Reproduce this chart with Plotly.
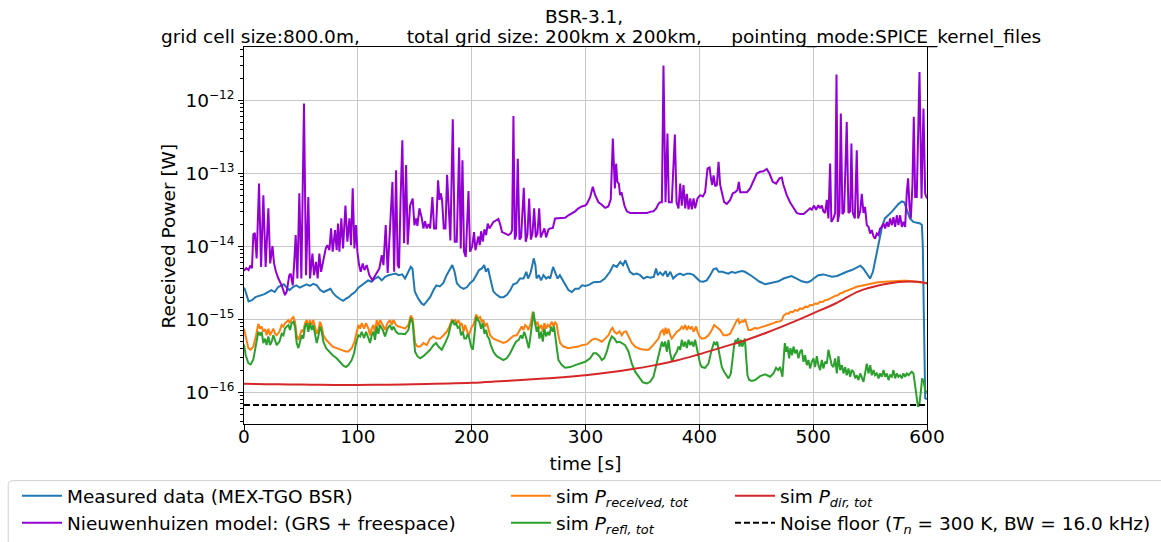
import numpy as np
import plotly.graph_objects as go

# ---------------------------------------------------------------- data
# All powers below are in femtowatts (1 fW = 1e-15 W); times in seconds.

measured_t = [
    0, 1, 4, 7, 10, 14, 18, 21, 24, 27,
    30, 33, 35, 37.5, 40, 43, 46, 49, 52, 55,
    58, 61, 64, 67, 70, 73, 76, 78.5, 81, 84,
    87, 90, 92, 95, 97.5, 100.5, 103, 106, 109, 112,
    115, 118, 121, 124, 127, 130, 133, 136, 139, 141.5,
    144.5, 146.5, 148, 150, 153, 156, 158, 160.5, 163.5, 166.5,
    169, 172, 175, 178, 181, 183, 185, 187, 190, 193,
    196, 198.5, 201.5, 204.5, 206.5, 209, 211, 212.5, 214.5, 216,
    219, 222, 225, 228, 231, 234, 236.5, 239.5, 242.5, 245.5,
    248, 249.5, 251.5, 253, 254.5, 256, 257, 259, 261, 263,
    265.5, 267.5, 269, 271.5, 273.5, 275.5, 277.5, 280, 282, 285,
    288, 291, 294, 297, 300, 303, 307, 313, 317, 321.5,
    324.5, 327.5, 330.5, 333, 335, 337, 339, 342, 345, 348,
    351, 354, 357, 360, 362, 363.5, 365.5, 368, 370.5, 372,
    374.5, 377, 380, 383, 386, 389, 392, 395, 398, 400.5,
    403.5, 406.5, 409.5, 412.5, 415, 417, 420, 422.5, 425.5, 428.5,
    431.5, 434.5, 437.5, 440, 443, 446, 449, 453, 458, 461,
    465, 469.5, 474, 478, 481, 485.5, 490, 494.5, 497.5, 500.5,
    504.5, 509, 512, 516.5, 521, 525, 529.5, 534, 538.5, 541.5,
    544, 547, 550, 552.5, 554.5, 557.5, 560.5, 563, 566, 569,
    572, 575, 578, 580, 582.5, 585, 588, 591, 594, 595.5,
    596.3, 597.2, 598.4, 600,
]
measured_fw = [
    2.7, 2.5, 1.75, 1.82, 2.0, 2.1, 2.2, 2.35, 2.5, 2.35,
    2.75, 2.9, 3.0, 2.7, 2.5, 2.75, 2.9, 2.7, 2.85, 3.0,
    2.85, 3.05, 2.9, 2.5, 2.35, 2.45, 2.6, 2.25, 2.05, 1.9,
    1.78, 1.92, 2.0, 2.2, 2.35, 2.7, 2.9, 3.2, 3.4, 3.25,
    3.6, 3.8, 3.4, 3.8, 4.0, 4.1, 4.2, 4.0, 4.1, 3.6,
    4.45, 5.2, 4.9, 2.4, 1.92, 1.64, 1.56, 1.73, 2.0, 2.5,
    2.9, 2.8, 3.1, 4.0, 4.9, 5.5, 4.45, 3.1, 2.75, 2.6,
    2.75, 3.1, 3.4, 4.2, 4.7, 4.95, 5.5, 4.45, 4.95, 3.8,
    2.4, 2.15, 2.0, 2.0, 2.15, 2.5, 3.0, 3.1, 3.6, 3.6,
    4.45, 3.6, 4.2, 5.2, 6.8, 5.5, 3.6, 4.0, 3.4, 4.0,
    3.6, 3.8, 3.6, 5.2, 4.2, 3.6, 4.0, 3.4, 2.9, 2.5,
    2.35, 2.6, 2.6, 2.9, 2.85, 2.95, 3.2, 3.25, 3.6, 4.45,
    5.5, 5.2, 6.1, 5.5, 6.4, 5.2, 4.45, 4.1, 4.2, 4.0,
    3.6, 3.8, 3.7, 3.8, 4.95, 4.0, 4.35, 4.0, 4.55, 3.8,
    4.45, 3.6, 4.0, 4.2, 4.0, 4.2, 4.2, 4.0, 3.6, 3.3,
    3.25, 3.4, 4.0, 4.85, 4.95, 4.45, 4.45, 4.35, 4.2, 4.45,
    4.3, 4.45, 4.55, 4.45, 4.2, 3.9, 3.6, 3.25, 3.0, 3.08,
    3.18, 3.3, 3.6, 3.8, 3.9, 3.6, 3.3, 3.18, 3.3, 3.6,
    4.0, 4.1, 4.0, 3.8, 3.9, 4.2, 4.45, 4.7, 5.05, 5.4,
    4.95, 4.2, 3.6, 4.45, 6.4, 11.5, 18.4, 24, 26.5, 29.5,
    33.4, 38, 41, 40, 31, 24, 21.5, 21, 20.5, 19.5,
    10.3, 1.26, 0.082, 0.08,
]

model_t = [
    0, 2, 4, 5.5, 7, 8.2, 9.5, 11.1, 13.2, 15,
    17, 19, 21.4, 23, 25, 26.4, 28.1, 30.2, 33.1, 36,
    37.5, 39.8, 41, 42.8, 44, 45.4, 46.9, 48.6, 50.4, 52.7,
    54.5, 56.5, 58, 60.1, 61.5, 63.3, 64.7, 66.2, 67.7, 69.7,
    71.8, 73.2, 75, 76.5, 77.9, 80, 81.4, 82.6, 83.8, 85.5,
    87, 89.1, 90.8, 92.6, 94, 95.5, 97, 98.4, 99.6, 101.1,
    102.5, 104.3, 105.8, 107.8, 110.1, 112.8, 115.1, 117.2, 118.9, 121,
    122.5, 124.5, 126.2, 128.5, 130.4, 131.9, 133.6, 135, 136.2, 137.5,
    139.1, 140.6, 142.4, 143.8, 145.9, 148.2, 149.7, 151.2, 152.3, 154.1,
    156.2, 157.6, 159, 160.5, 162, 163.5, 165.5, 167, 168.7, 170.5,
    171.7, 172.8, 174, 175.5, 177, 178.4, 179.9, 181.3, 183.4, 185.1,
    186.9, 189, 190.4, 191.9, 193.3, 194.8, 197.2, 198.6, 200.4, 202.1,
    203.3, 204.5, 205.9, 207.1, 208.3, 209.7, 211.2, 212.7, 214.1, 215.6,
    217.1, 219.1, 221.5, 223.5, 225, 226.7, 229.3, 232.3, 234.4, 235.5,
    236.7, 237.9, 239, 240.5, 242, 243.4, 245.8, 247.5, 249, 250.5,
    252, 253.4, 254.9, 256.3, 257.8, 259.3, 260.7, 262.5, 263.9, 265.4,
    267.5, 269, 271.3, 273.3, 276.2, 279.2, 282.1, 285, 288, 290.9,
    293.8, 296.7, 299.7, 301.2, 304.1, 306.4, 308.5, 311.4, 314.3, 317.3,
    320, 322.2, 324, 325.8, 326.9, 328, 329.3, 330.4, 331.6, 332.8,
    334.2, 336.3, 339.2, 342, 345, 348, 350.9, 353.9, 356.8, 359.7,
    362.1, 364.1, 365.6, 367.1, 368.5, 370.3, 372, 373.2, 375.8, 378.5,
    380, 381.7, 383.2, 384.6, 386.1, 387.6, 389, 390.5, 392, 393.4,
    394.9, 396.3, 398.4, 400.7, 403.1, 405.1, 407.2, 409, 410.1, 411.3,
    412.5, 414, 415.4, 416.9, 418.3, 419.8, 421.8, 424.2, 427.1, 429.4,
    431.5, 433.5, 434.7, 435.9, 438.8, 441.8, 444.6, 447.6, 450.5, 453.4,
    456.3, 459.2, 461.6, 464.5, 467.4, 470.4, 472.4, 473.9, 476.8, 479.7,
    482.7, 485.6, 488.5, 491.5, 494.4, 497.3, 498.8, 500.8, 502.6, 504.6,
    506.1, 507.6, 509, 510.5, 512, 513.4, 514.9, 516, 517.8, 519.3,
    520.5, 521.6, 523.1, 524.3, 525.7, 527.2, 529.5, 531, 532.5, 533.6,
    534.8, 536.6, 538.3, 539.5, 541.3, 542.7, 544.2, 545.6, 547.1, 548.6,
    550.1, 551.5, 553, 554.4, 555.9, 557.4, 558.8, 560.3, 561.8, 563.2,
    564.7, 566.2, 567.6, 569.1, 570.5, 572, 573.5, 574.9, 576.4, 577.9,
    579.3, 580.8, 582.3, 583.4, 584.6, 585.8, 587.2, 588.4, 589.6, 591,
    593.4, 595.2, 596.9, 598.4, 600,
]
model_fw = [
    4.6, 5.0, 4.7, 5.4, 5.0, 14.5, 15.2, 6.8, 72, 5.2,
    50, 5.2, 33, 5.8, 10, 5.8, 4.45, 3.6, 2.9, 2.13,
    2.37, 4.0, 4.2, 2.9, 5.5, 14.2, 3.6, 53, 3.6, 900,
    4.0, 47, 3.6, 7.9, 4.0, 6.1, 3.6, 7.9, 4.45, 6.8,
    9.3, 10.3, 8.8, 17.5, 8.4, 16.6, 8.8, 20.4, 8.4, 24,
    9.3, 36, 11.5, 24, 10.3, 62, 9.3, 19.4, 8.4, 5.5,
    4.45, 5.8, 4.7, 5.5, 4.0, 3.4, 4.0, 4.45, 4.95, 7.5,
    5.5, 19.4, 4.3, 21, 76, 4.45, 110, 5.5, 5.0, 42,
    283, 11, 129, 10.5, 36, 45, 19.4, 24, 19, 33,
    24, 17.5, 22, 17.5, 20, 17.5, 47, 17.5, 17.5, 80,
    43, 53, 43, 17.5, 17.5, 95, 33, 12, 550, 11.5,
    11.5, 225, 9.3, 151, 8.4, 7.1, 57, 8.4, 9.8, 15.6,
    8.8, 11.5, 13.6, 10.3, 16, 11.5, 17, 14.2, 20.4, 17.5,
    19.4, 21.5, 22.5, 23.5, 20, 15.6, 15, 14.2, 15, 16.6,
    610, 12.3, 14.2, 158, 12.3, 13.2, 63, 11.5, 14.5, 45,
    12.3, 14.8, 33, 13.2, 14.8, 33, 13.2, 15.6, 17.5, 13.2,
    17, 17.5, 17.8, 24, 24, 24.5, 24.5, 26.5, 28, 30,
    33, 35, 36, 38, 47, 65, 50, 40, 37, 33.5,
    35, 44, 298, 62, 135, 76, 72, 50, 55, 47,
    36, 30, 28.5, 28.5, 28.5, 28.5, 28.5, 28.5, 29.5, 30,
    33, 38, 40, 40, 3000, 40, 349, 40, 40, 340,
    40, 33, 72, 36, 69, 33, 52, 32, 45, 32,
    45, 33, 45, 50, 48, 55, 116, 120, 87, 69,
    93, 66, 69, 143, 69, 55, 40, 38, 43, 53,
    55, 59, 76, 55, 55, 55, 62, 80, 99, 105,
    106, 114, 99, 76, 72, 85, 87, 69, 50, 40,
    33, 28.5, 27.5, 27.5, 30, 33, 31.5, 36, 31.5, 36.5,
    33, 36, 30, 28.5, 43, 24, 136, 21.5, 24, 28.5,
    2250, 21.5, 28.5, 656, 27.5, 30, 505, 28.5, 30, 255,
    28.5, 24, 206, 24, 30, 52, 28.5, 34.5, 19.4, 18.4,
    14.9, 16.6, 13.6, 12.7, 14.9, 14.2, 17.5, 18.4, 20.4, 17.5,
    21.5, 18.4, 24, 19.4, 25, 18.4, 26.5, 19.4, 26.5, 18.4,
    21.5, 18.4, 56, 85, 36, 24, 69, 592, 47, 47,
    2440, 45, 770, 52, 45,
]

received_t = [
    0, 1.5, 3.8, 5.9, 8.2, 10.6, 12.6, 14.1, 15.5, 17,
    18.5, 19.9, 21.4, 22.9, 24.3, 25.8, 27.3, 28.7, 31.1, 33.1,
    34.6, 36, 37.5, 39, 40.4, 41.9, 43.4, 44.8, 46.3, 47.8,
    49.2, 50.7, 52.1, 53.6, 55.1, 56.5, 58, 59.5, 60.9, 62.4,
    63.9, 65.3, 66.8, 68.3, 69.7, 72.1, 75, 77.9, 81.4, 84.4,
    87.3, 89.6, 91.7, 94.6, 96.7, 98.4, 100.5, 102, 103.4, 105.5,
    107.2, 109.3, 110.7, 112.2, 113.7, 115.1, 116.6, 118, 119.5, 121.9,
    123.9, 126, 128.3, 129.8, 131.2, 133.6, 135.6, 138.6, 141.5, 144.4,
    146.5, 148.2, 149.4, 150.3, 152.3, 154.7, 157.6, 160.5, 163.5, 166.4,
    169.3, 172.3, 175.2, 178.1, 180.5, 182.5, 184, 185.4, 186.9, 188.4,
    189.8, 191.3, 192.8, 194.2, 195.7, 197.2, 198.6, 200.1, 201.6, 203.9,
    205.9, 207.4, 208.9, 210.3, 211.8, 213.3, 214.7, 216.2, 219.1, 222,
    225, 227.9, 230.8, 233.8, 236.7, 239.6, 242.6, 244, 245.5, 247,
    248.4, 249.9, 251.9, 253.7, 254.9, 256.3, 257.8, 259.3, 261.1, 262.5,
    263.9, 265.4, 266.9, 268.3, 270.4, 271.9, 273.3, 274.8, 276.2, 277.7,
    280.6, 285, 289.4, 293.8, 296.7, 299.7, 301.2, 305.6, 308.5, 311.4,
    314.3, 317.3, 320.2, 322.2, 323.7, 325.5, 327.5, 329.9, 331.9, 333.9,
    335.7, 337.8, 340.7, 343.6, 348, 352.4, 355.4, 358.3, 361.2, 364.1,
    366.2, 367.9, 369.1, 370.3, 371.5, 372.9, 374.4, 375.8, 377.9, 380.2,
    382.6, 384.6, 386.1, 387.6, 389, 390.5, 392, 393.4, 394.9, 397.2,
    398.4, 400.2, 402.2, 405.1, 408, 411, 413, 414.8, 416.9, 418.3,
    421.2, 424.2, 427.1, 429.4, 431.5, 433, 434.1, 435.3, 436.5, 437.7,
    438.8, 440.3, 441.8, 443.2, 445.3, 447.1, 449.1, 450.5, 453.4, 456.3,
    459.2, 462.2, 465.1, 468, 470.5, 472.4, 473.9, 475.3, 476.8, 478.3,
    480, 482, 484.1, 486.3, 488.5, 490.7, 492.9, 495.1, 497.3, 499.5,
    501.7, 503.9, 506.1, 508.3, 510.5, 512.7, 514.9, 517.1, 519.3, 521.5,
    523.7, 525.9, 528.1, 530.3, 532.5, 535.4, 538.3, 541.2, 544.2, 547.1,
    550.1, 553, 555.9, 558.8, 561.8, 564.7, 567.6, 570.5, 573.5, 576.4,
    579.3, 582.2, 585.2, 588.1, 591, 595.5, 600,
]
received_fw = [
    0.74, 0.6, 0.40, 0.38, 0.42, 0.60, 0.86, 0.74, 0.79, 0.67,
    0.73, 0.60, 0.74, 0.60, 0.67, 0.74, 0.63, 0.60, 0.67, 0.83,
    0.79, 0.88, 0.92, 0.97, 0.88, 1.02, 1.07, 0.92, 0.60, 0.52,
    0.60, 0.71, 0.67, 0.88, 0.97, 0.79, 0.97, 0.83, 0.97, 0.74,
    0.63, 0.71, 0.92, 0.79, 0.60, 0.52, 0.47, 0.42, 0.40, 0.38,
    0.37, 0.36, 0.36, 0.40, 0.47, 0.60, 0.83, 0.74, 0.88, 0.74,
    0.88, 0.74, 0.60, 0.74, 0.83, 0.65, 0.97, 0.79, 0.97, 0.83,
    0.71, 0.88, 0.97, 0.83, 0.97, 0.83, 0.79, 0.77, 0.74, 0.83,
    1.12, 1.02, 0.70, 0.47, 0.42, 0.42, 0.47, 0.44, 0.54, 0.58,
    0.54, 0.54, 0.60, 0.67, 0.79, 0.97, 0.92, 0.97, 0.88, 0.97,
    0.83, 0.88, 0.67, 0.83, 0.71, 0.58, 0.67, 0.79, 0.83, 1.16,
    1.02, 1.07, 0.92, 0.97, 0.79, 0.88, 0.74, 0.60, 0.54, 0.52,
    0.49, 0.47, 0.49, 0.54, 0.59, 0.60, 0.71, 0.79, 0.71, 0.83,
    0.79, 0.71, 0.88, 1.26, 1.02, 0.83, 0.92, 0.74, 0.83, 0.67,
    0.88, 0.74, 0.83, 0.79, 0.92, 0.79, 0.92, 0.83, 0.60, 0.47,
    0.42, 0.40, 0.41, 0.42, 0.44, 0.45, 0.45, 0.52, 0.54, 0.52,
    0.49, 0.54, 0.60, 0.71, 0.76, 0.67, 0.63, 0.68, 0.60, 0.67,
    0.68, 0.58, 0.47, 0.42, 0.39, 0.38, 0.38, 0.42, 0.47, 0.54,
    0.67, 0.71, 0.60, 0.76, 0.63, 0.74, 0.60, 0.54, 0.60, 0.67,
    0.71, 0.79, 0.74, 0.83, 0.71, 0.79, 0.74, 0.79, 0.67, 0.79,
    0.67, 0.58, 0.54, 0.55, 0.60, 0.71, 0.83, 0.79, 0.74, 0.71,
    0.60, 0.60, 0.63, 0.74, 0.88, 0.97, 1.0, 0.88, 0.92, 0.94,
    0.92, 1.0, 0.83, 0.71, 0.71, 0.74, 0.76, 0.74, 0.77, 0.80,
    0.82, 0.85, 0.88, 0.92, 0.93, 0.96, 1.11, 1.16, 1.20, 1.18,
    1.26, 1.24, 1.33, 1.30, 1.40, 1.38, 1.48, 1.46, 1.56, 1.55,
    1.64, 1.62, 1.73, 1.72, 1.82, 1.84, 1.92, 1.98, 2.08, 2.12,
    2.25, 2.30, 2.42, 2.47, 2.58, 2.66, 2.77, 2.84, 2.92, 3.0,
    3.08, 3.13, 3.18, 3.22, 3.25, 3.29, 3.32, 3.34, 3.36, 3.37,
    3.36, 3.35, 3.32, 3.29, 3.25, 3.17, 3.08,
]

reflected_t = [
    0, 1.5, 3.8, 5.9, 8.2, 10.6, 12.6, 14.1, 15.5, 17,
    18.5, 19.9, 21.4, 22.9, 24.3, 25.8, 27.3, 28.7, 31.1, 33.1,
    34.6, 36, 37.5, 39, 40.4, 41.9, 43.4, 44.8, 46.3, 47.8,
    49.2, 50.7, 52.1, 53.6, 55.1, 56.5, 58, 59.5, 60.9, 62.4,
    63.9, 65.3, 66.8, 68.3, 69.7, 72.1, 75, 77.9, 81.4, 84.4,
    87.3, 89.6, 91.7, 94.6, 96.7, 98.4, 100.5, 102, 103.4, 105.5,
    107.2, 109.3, 110.7, 112.2, 113.7, 115.1, 116.6, 118, 119.5, 121.9,
    123.9, 126, 128.3, 129.8, 131.2, 133.6, 135.6, 138.6, 141.5, 144.4,
    146.5, 148.2, 149.4, 150.3, 152.3, 154.7, 157.6, 160.5, 163.5, 166.4,
    168.7, 170.8, 173.7, 176.7, 179.6, 181.6, 183.4, 184.9, 186.3, 187.8,
    189.3, 190.7, 192.2, 193.6, 195.1, 196.6, 198, 199.5, 201, 202.4,
    203.9, 205.4, 206.8, 208.3, 209.8, 211.2, 212.7, 213.9, 215.3, 216.8,
    219.1, 222, 225, 227.9, 230.8, 233.8, 236.7, 239, 241.4, 243.1,
    244.6, 246.1, 247.5, 249, 250.2, 251.4, 252.8, 254.3, 255.7, 257.2,
    258.4, 259.5, 261, 262.5, 263.9, 265.4, 266.9, 268.3, 269.8, 271.3,
    272.4, 273.6, 274.8, 276.2, 279.2, 282.1, 286.5, 290.9, 295.3, 299.7,
    304.1, 307, 309.4, 312.3, 314.3, 316.4, 318.7, 321.1, 323.1, 325.5,
    327.5, 329.9, 331.9, 334.8, 337.8, 340.7, 343.6, 346.6, 350.4, 353.9,
    356.8, 359.7, 362.1, 364.1, 365.6, 367.1, 368.5, 370, 371.5, 372.9,
    374.4, 376.1, 377.9, 380.2, 381.7, 383.2, 384.6, 386.1, 387.6, 389,
    390.5, 392, 393.4, 394.9, 396.3, 397.8, 399.3, 400.7, 402.2, 405.1,
    408, 410.4, 411.9, 413, 414.5, 415.7, 416.9, 418.3, 419.8, 421.8,
    423.6, 425.6, 427.7, 429.4, 430.6, 431.8, 433, 434.1, 435.3, 436.5,
    437.7, 438.8, 440, 441.2, 442.3, 443.8, 446.1, 449, 453.4, 457.8,
    462.2, 465.1, 467.4, 469.3, 471, 473, 473.9, 475.1, 476.2, 477.4,
    478.9, 480, 481.5, 482.7, 484.1, 485.6, 487.1, 488.5, 490, 491.5,
    492.9, 494.4, 495.8, 497.3, 498.8, 500.3, 501.7, 503.2, 504.6, 506.1,
    507.6, 509, 510.5, 512, 513.4, 514.9, 516.3, 517.8, 519.3, 520.8,
    522.2, 523.7, 525.2, 526.6, 528.1, 529.5, 531, 532.5, 533.9, 535.4,
    536.9, 538.3, 539.8, 541.3, 542.7, 544.2, 545.6, 547.1, 548.6, 550.1,
    551.5, 553, 554.4, 555.9, 557.4, 558.8, 560.3, 561.8, 563.2, 564.7,
    566.2, 567.6, 569.1, 570.5, 572, 573.5, 574.9, 576.4, 577.9, 579.3,
    580.8, 582.3, 583.7, 585.2, 586.6, 588.1, 589.3, 590.5, 592, 593.2,
    594.6, 595.7, 597.2, 598.4, 600,
]
reflected_fw = [
    0.45, 0.32, 0.25, 0.24, 0.28, 0.49, 0.67, 0.60, 0.67, 0.47,
    0.54, 0.44, 0.58, 0.44, 0.49, 0.60, 0.49, 0.44, 0.49, 0.63,
    0.60, 0.74, 0.79, 0.83, 0.71, 0.88, 0.92, 0.79, 0.47, 0.40,
    0.49, 0.60, 0.54, 0.79, 0.88, 0.67, 0.88, 0.71, 0.83, 0.60,
    0.47, 0.58, 0.79, 0.67, 0.49, 0.40, 0.357, 0.32, 0.29, 0.26,
    0.23, 0.22, 0.235, 0.275, 0.34, 0.47, 0.60, 0.58, 0.67, 0.55,
    0.67, 0.55, 0.47, 0.60, 0.67, 0.52, 0.79, 0.63, 0.83, 0.71,
    0.58, 0.74, 0.83, 0.71, 0.79, 0.67, 0.63, 0.63, 0.62, 0.71,
    1.04, 0.88, 0.52, 0.357, 0.31, 0.29, 0.31, 0.34, 0.38, 0.44,
    0.47, 0.42, 0.38, 0.47, 0.60, 0.83, 0.97, 0.83, 0.88, 0.76,
    0.79, 0.60, 0.67, 0.54, 0.54, 0.63, 0.54, 0.42, 0.38, 0.60,
    1.07, 0.97, 0.92, 0.74, 0.88, 0.63, 0.71, 0.58, 0.54, 0.44,
    0.357, 0.31, 0.29, 0.275, 0.29, 0.34, 0.42, 0.49, 0.52, 0.60,
    0.54, 0.67, 0.58, 0.47, 0.40, 0.54, 0.88, 1.26, 0.88, 0.67,
    0.79, 0.54, 0.67, 0.49, 0.74, 0.58, 0.67, 0.60, 0.79, 0.67,
    0.79, 0.60, 0.40, 0.275, 0.234, 0.215, 0.22, 0.234, 0.245, 0.26,
    0.29, 0.34, 0.34, 0.31, 0.275, 0.29, 0.357, 0.49, 0.58, 0.54,
    0.48, 0.49, 0.47, 0.44, 0.357, 0.245, 0.19, 0.162, 0.136, 0.131,
    0.138, 0.162, 0.234, 0.34, 0.40, 0.49, 0.42, 0.49, 0.357, 0.52,
    0.34, 0.26, 0.31, 0.357, 0.42, 0.38, 0.52, 0.42, 0.49, 0.40,
    0.52, 0.44, 0.49, 0.42, 0.52, 0.38, 0.31, 0.245, 0.22, 0.215,
    0.245, 0.357, 0.44, 0.49, 0.44, 0.49, 0.38, 0.275, 0.22, 0.19,
    0.17, 0.154, 0.18, 0.31, 0.44, 0.52, 0.47, 0.55, 0.42, 0.52,
    0.42, 0.47, 0.54, 0.29, 0.17, 0.146, 0.142, 0.146, 0.165, 0.175,
    0.162, 0.18, 0.215, 0.20, 0.22, 0.162, 0.26, 0.47, 0.357, 0.42,
    0.29, 0.40, 0.32, 0.42, 0.34, 0.38, 0.29, 0.357, 0.38, 0.26,
    0.32, 0.234, 0.275, 0.211, 0.26, 0.29, 0.22, 0.31, 0.234, 0.20,
    0.275, 0.211, 0.26, 0.245, 0.38, 0.275, 0.234, 0.22, 0.29, 0.18,
    0.31, 0.20, 0.234, 0.18, 0.22, 0.17, 0.211, 0.162, 0.20, 0.19,
    0.154, 0.17, 0.146, 0.18, 0.154, 0.138, 0.18, 0.245, 0.18, 0.234,
    0.17, 0.20, 0.17, 0.18, 0.154, 0.18, 0.162, 0.20, 0.162, 0.18,
    0.146, 0.17, 0.162, 0.20, 0.154, 0.18, 0.162, 0.17, 0.154, 0.18,
    0.162, 0.18, 0.17, 0.18, 0.19, 0.18, 0.138, 0.096, 0.063, 0.066,
    0.101, 0.154, 0.138, 0.106, 0.096,
]

direct_t = [
    0, 20, 40, 60, 80, 100, 120, 140, 160, 180,
    200, 220, 240, 260, 280, 300, 320, 340, 360, 380,
    400, 420, 440, 460, 480, 500, 520, 540, 560, 575,
    585, 592, 600,
]
direct_fw = [
    0.130, 0.128, 0.127, 0.126, 0.125, 0.125, 0.126, 0.127, 0.129, 0.131,
    0.134, 0.139, 0.145, 0.152, 0.160, 0.170, 0.185, 0.205, 0.232, 0.27,
    0.33, 0.41, 0.51, 0.66, 0.88, 1.2, 1.65, 2.4, 2.95, 3.22,
    3.27, 3.25, 3.1,
]

# decade ticks of the power axis and their labels
y_tick_exponents = [-16, -15, -14, -13, -12]

# Receiver noise floor parameters (k_B * T_n * BW)
BOLTZMANN = 1.380649e-23   # J/K
T_NOISE = 300.0            # K
BANDWIDTH = 16.0e3         # Hz
TIME_SPAN = [0, 600]

FW = 1e-15  # femtowatt -> watt

# ---------------------------------------------------------------- style
FONT = "DejaVu Sans"
FS = 18.5
W, H = 1161, 542
L_PX, R_PX, T_PX, B_PX = 244.0, 926.7, 46.7, 424.0
PW, PH = R_PX - L_PX, B_PX - T_PX


def px_x(x):
    return (x - L_PX) / PW


def px_y(y):
    return (B_PX - y) / PH


def watts(values):
    return np.asarray(values, dtype=float) * FW


fig = go.Figure()

fig.add_trace(go.Scatter(
    x=measured_t, y=watts(measured_fw), mode="lines",
    line=dict(color="#1f77b4", width=2),
    name="Measured data (MEX-TGO BSR)", legend="legend"))
fig.add_trace(go.Scatter(
    x=model_t, y=watts(model_fw), mode="lines",
    line=dict(color="#9400d3", width=2),
    name="Nieuwenhuizen model: (GRS + freespace)", legend="legend"))
fig.add_trace(go.Scatter(
    x=received_t, y=watts(received_fw), mode="lines",
    line=dict(color="#ff7f0e", width=2),
    name="sim <i>P<sub>received, tot</sub></i>", legend="legend2"))
fig.add_trace(go.Scatter(
    x=reflected_t, y=watts(reflected_fw), mode="lines",
    line=dict(color="#2ca02c", width=2),
    name="sim <i>P<sub>refl, tot</sub></i>", legend="legend2"))
fig.add_trace(go.Scatter(
    x=direct_t, y=watts(direct_fw), mode="lines",
    line=dict(color="#d62728", width=2, shape="spline"),
    name="sim <i>P<sub>dir, tot</sub></i>", legend="legend3"))

noise_w = BOLTZMANN * T_NOISE * BANDWIDTH
fig.add_trace(go.Scatter(
    x=TIME_SPAN, y=[noise_w, noise_w], mode="lines",
    line=dict(color="black", width=2, dash="6px,3px"),
    name="Noise floor (<i>T<sub>n</sub></i> = 300 K, BW = 16.0 kHz)",
    legend="legend3"))

# legends are placed in container coordinates so they do not shrink the plot
legend_common = dict(
    orientation="v", xanchor="left", yanchor="top",
    xref="container", yref="container",
    bgcolor="rgba(0,0,0,0)", borderwidth=0, itemwidth=40,
    font=dict(family=FONT, size=FS, color="black"),
    tracegroupgap=0,
)
legend_top = 1 - 477.2 / H

# rounded legend frame spanning the three legend columns
fx0, fx1 = px_x(8.3), px_x(1175)
fy0, fy1 = px_y(480.7), px_y(560)
rx, ry = 5 / PW, 5 / PH
frame_path = (f"M {fx0},{fy1} L {fx0},{fy0 - ry} Q {fx0},{fy0} {fx0 + rx},{fy0} "
              f"L {fx1},{fy0} L {fx1},{fy1} Z")

gap = "\u00a0"
subtitle = ("grid cell size:800.0m," + gap * 8 + "total grid size: 200km x 200km,"
            + gap * 5 + "pointing_mode:SPICE_kernel_files")

y_tickvals = [10.0 ** e for e in y_tick_exponents]
y_ticktext = [f"10<sup><span style='font-size:12px'>\u2212{abs(e)}</span></sup>"
              for e in y_tick_exponents]

fig.update_layout(
    width=W, height=H,
    margin=dict(l=L_PX, r=W - R_PX, t=T_PX, b=H - B_PX, pad=0, autoexpand=False),
    paper_bgcolor="white", plot_bgcolor="white",
    font=dict(family=FONT, size=FS, color="black"),
    title=dict(text="BSR-3.1,", x=px_x(584), xref="paper", xanchor="center",
               y=1 - 17 / H, yref="container", yanchor="middle",
               font=dict(family=FONT, size=FS, color="black")),
    annotations=[
        dict(text=subtitle, x=px_x(601), y=px_y(37), xref="paper", yref="paper",
             xanchor="center", yanchor="middle", showarrow=False,
             font=dict(family=FONT, size=FS, color="black")),
        dict(text="Received Power [W]", textangle=-90, x=px_x(169), y=0.5,
             xref="paper", yref="paper", xanchor="center", yanchor="middle",
             showarrow=False, font=dict(family=FONT, size=FS, color="black")),
    ],
    shapes=[dict(type="path", path=frame_path, xref="paper", yref="paper",
                 line=dict(color="#d0d0d0", width=1), fillcolor="white", layer="below")],
    showlegend=True,
    legend=dict(x=17 / W, y=legend_top, **legend_common),
    legend2=dict(x=506 / W, y=legend_top, **legend_common),
    legend3=dict(x=730 / W, y=legend_top, **legend_common),
)

fig.update_xaxes(
    range=TIME_SPAN, tickmode="array", tickvals=list(range(0, 601, 100)),
    ticks="outside", ticklen=5, tickwidth=1, tickcolor="black",
    ticklabelstandoff=-9,
    showline=True, linecolor="black", linewidth=1, mirror=True,
    showgrid=True, gridcolor="#c8c8c8", gridwidth=1, zeroline=False,
    tickfont=dict(family=FONT, size=FS, color="black"),
    title=dict(text="time [s]", standoff=10, font=dict(family=FONT, size=FS, color="black")),
)
fig.update_yaxes(
    type="log", range=[-16.438, -11.27],
    tickmode="array", tickvals=y_tickvals, ticktext=y_ticktext,
    ticks="outside", ticklen=5, tickwidth=1, tickcolor="black",
    minor=dict(ticks="outside", ticklen=3, tickwidth=1, tickcolor="black",
               showgrid=False, dtick="D1"),
    showline=True, linecolor="black", linewidth=1, mirror=True,
    showgrid=True, gridcolor="#c8c8c8", gridwidth=1, zeroline=False,
    tickfont=dict(family=FONT, size=FS, color="black"),
)

fig.write_html("out.html")
